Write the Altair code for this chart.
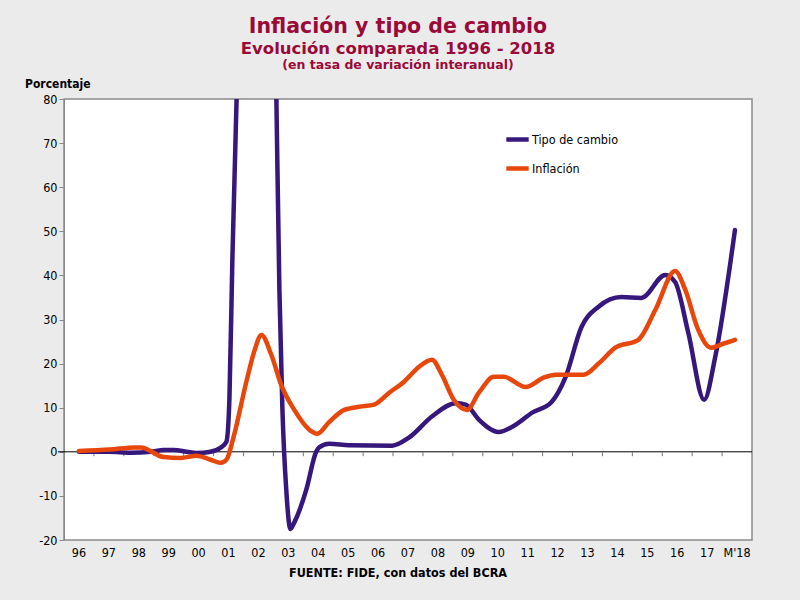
import altair as alt
import pandas as pd

# ---- data ----
tc_x = [1996.0, 1997.0, 1997.73, 1998.4, 1998.83, 1999.17, 1999.6, 1999.93, 2000.4, 2000.73,
        2000.93, 2001.03, 2001.13, 2001.27, 2001.5, 2002.0, 2002.4, 2002.6, 2002.7, 2002.8,
        2002.93, 2003.07, 2003.2, 2003.6, 2003.93, 2004.03, 2004.37, 2005.03, 2006.47, 2007.03,
        2007.8, 2008.6, 2008.93, 2009.37, 2010.03, 2010.7, 2011.13, 2011.8, 2012.27, 2012.8,
        2013.37, 2014.13, 2014.8, 2015.6, 2015.93, 2016.37, 2016.9, 2017.27, 2017.93]
tc_v = [0.0, 0.0, -0.2, 0.0, 0.4, 0.4, 0.0, -0.3, 0.0, 0.9,
        2.3, 12, 44, 80, 160, 250, 160, 80, 37, 10,
        -8.6, -17.5, -16, -8.6, 0.0, 1.0, 1.8, 1.5, 1.4, 3.2,
        8, 11, 10.7, 7.3, 4.5, 6.6, 8.8, 11.3, 17, 28.3,
        32.9, 35.1, 34.9, 40.1, 38.5, 27, 11.8, 21.5, 50.3]

inf_x = [1996.0, 1997.03, 1997.87, 1998.07, 1998.83, 1999.4, 1999.93, 2000.4, 2000.73, 2000.93,
         2001.17, 2001.6, 2001.87, 2002.1, 2002.43, 2002.77, 2003.2, 2003.7, 2003.97, 2004.37,
         2004.87, 2005.37, 2005.87, 2006.37, 2006.87, 2007.37, 2007.8, 2008.13, 2008.53, 2008.97,
         2009.37, 2009.87, 2010.2, 2010.93, 2011.53, 2011.93, 2012.87, 2013.37, 2013.93, 2014.7,
         2015.27, 2015.93, 2016.27, 2016.7, 2017.13, 2017.53, 2017.93]
inf_v = [0.2, 0.5, 1.0, 1.0, -1.2, -1.4, -0.9, -1.8, -2.5, -1.8,
         3.4, 16, 23, 26.5, 22, 15, 9.5, 5, 4.1, 6.8,
         9.5, 10.2, 10.7, 13.4, 15.9, 19.3, 20.9, 17.5, 11.8, 9.5,
         13.4, 17, 17, 14.7, 16.8, 17.5, 17.5, 20, 23.6, 25.4,
         32.2, 41, 36.7, 27.7, 23.6, 24.5, 25.4]

tick_years = list(range(1996, 2019))
tick_labels = ["96", "97", "98", "99", "00", "01", "02", "03", "04", "05", "06", "07",
               "08", "09", "10", "11", "12", "13", "14", "15", "16", "17", "M'18"]
y_ticks = [-20, -10, 0, 10, 20, 30, 40, 50, 60, 70, 80]
boundaries = [y + 0.5 for y in range(1996, 2018)]

SERIES = ["Tipo de cambio", "Inflación"]
BLUE = "#36177c"
ORANGE = "#e8470c"
MAROON = "#9a0a38"
NARROW = "Liberation Sans Narrow, DejaVu Sans Condensed, Liberation Sans, sans-serif"
WIDE = "DejaVu Sans, Liberation Sans, sans-serif"

W, H = 688, 441

df_tc = pd.DataFrame({"anio": tc_x, "valor": tc_v, "serie": SERIES[0]})
df_inf = pd.DataFrame({"anio": inf_x, "valor": inf_v, "serie": SERIES[1]})
df_lab = pd.DataFrame({"anio": tick_years, "lab": tick_labels})
df_b = pd.DataFrame({"anio": boundaries, "y0": 0, "y1": -1})
one = pd.DataFrame({"k": [0]})

xs = alt.Scale(domain=[1995.5, 2018.5], nice=False, zero=False)
ys = alt.Scale(domain=[-20, 80], nice=False, zero=False)

color = alt.Color(
    "serie:N",
    scale=alt.Scale(domain=SERIES, range=[BLUE, ORANGE]),
    legend=alt.Legend(title=None, orient="none", legendX=440, legendY=27,
                      symbolType="stroke", symbolSize=500, symbolStrokeWidth=4.5,
                      labelFont=NARROW, labelFontSize=12.5, labelColor="black",
                      labelOffset=1, rowPadding=6, padding=0),
)

yaxis = alt.Axis(values=y_ticks, title=None, grid=False, tickColor="#888888",
                 domainColor="#888888", tickSize=5, labelPadding=2,
                 labelExpr="toString(datum.value)",
                 labelFont=NARROW, labelFontSize=12.5, labelColor="black")

zero = alt.Chart(one).mark_rule(color="black", strokeWidth=1).encode(
    x=alt.value(-6), x2=alt.value(W), y=alt.datum(0, scale=ys))

bticks = alt.Chart(df_b).mark_rule(color="#777777", strokeWidth=1).encode(
    x=alt.X("anio:Q", scale=xs, axis=None),
    y=alt.Y("y0:Q", scale=ys, axis=yaxis), y2="y1:Q")

line_tc = alt.Chart(df_tc).mark_line(interpolate="monotone", strokeWidth=4.5,
                                     strokeCap="round", clip=True).encode(
    x=alt.X("anio:Q", scale=xs, axis=None),
    y=alt.Y("valor:Q", scale=ys, axis=yaxis),
    color=color)

line_inf = alt.Chart(df_inf).mark_line(interpolate="monotone", strokeWidth=4.5,
                                       strokeCap="round", clip=True).encode(
    x=alt.X("anio:Q", scale=xs, axis=None),
    y=alt.Y("valor:Q", scale=ys, axis=yaxis),
    color=color)

xlabels = alt.Chart(df_lab).mark_text(font=NARROW, fontSize=12.5, color="black",
                                      baseline="middle").encode(
    x=alt.X("anio:Q", scale=xs, axis=None), y=alt.value(454), text="lab:N")

def txt(s, x, y, size, col, font=WIDE, align="center"):
    return alt.Chart(one).mark_text(text=s, font=font, fontSize=size, fontWeight="bold",
                                    color=col, align=align, baseline="alphabetic").encode(
        x=alt.value(x), y=alt.value(y))

t1 = txt("Inflación y tipo de cambio", 334, -66, 20.5, MAROON)
t2 = txt("Evolución comparada 1996 - 2018", 334, -45, 16.5, MAROON)
t3 = txt("(en tasa de variación interanual)", 334, -30, 12.5, MAROON)
t4 = txt("Porcentaje", -39, -11, 12, "black", font=NARROW, align="left")
t5 = txt("FUENTE: FIDE, con datos del BCRA", 334, 478, 12.5, "black", font=NARROW)

chart = alt.layer(zero, bticks, line_tc, line_inf, xlabels, t1, t2, t3, t4, t5).properties(
    width=W, height=H,
    autosize=alt.AutoSizeParams(type="none"),
    padding={"left": 64, "top": 99, "right": 48, "bottom": 60},
    background="#ebebeb",
).configure_view(stroke="#8a8a8a", strokeWidth=1.5, fill="white")

chart.save("out.html", embed_options={"renderer": "svg", "actions": False})
